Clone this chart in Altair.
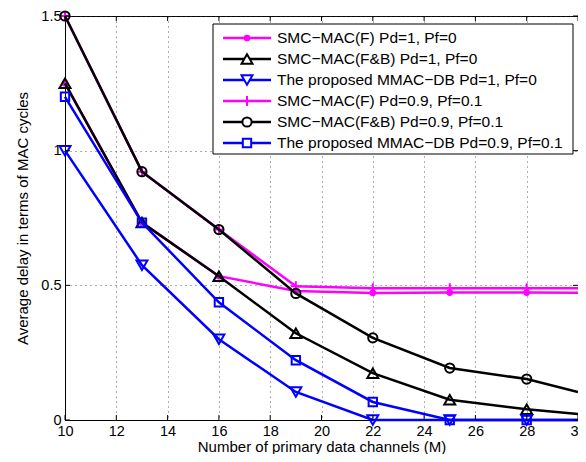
import altair as alt
import pandas as pd

# ---------------- data ----------------
x_channels = [10, 13, 16, 19, 22, 25, 28, 30]   # last value = line at the right edge
marker_x = [10, 13, 16, 19, 22, 25, 28]

series_names = [
    "SMC\u2212MAC(F) Pd=1, Pf=0",
    "SMC\u2212MAC(F&B) Pd=1, Pf=0",
    "The proposed MMAC\u2212DB Pd=1, Pf=0",
    "SMC\u2212MAC(F) Pd=0.9, Pf=0.1",
    "SMC\u2212MAC(F&B) Pd=0.9, Pf=0.1",
    "The proposed MMAC\u2212DB Pd=0.9, Pf=0.1",
]

f_pd1 = [1.25, 0.733, 0.534, 0.479, 0.472, 0.473, 0.473, 0.472]
fb_pd1 = [1.25, 0.733, 0.534, 0.322, 0.174, 0.075, 0.040, 0.022]
prop_pd1 = [1.0, 0.575, 0.300, 0.104, 0.0, 0.0, 0.0, 0.0]
f_pd09 = [1.5, 0.922, 0.707, 0.497, 0.489, 0.489, 0.489, 0.489]
fb_pd09 = [1.5, 0.922, 0.707, 0.470, 0.305, 0.193, 0.152, 0.104]
prop_pd09 = [1.2, 0.733, 0.437, 0.222, 0.067, 0.0, 0.0, 0.0]

all_values = [f_pd1, fb_pd1, prop_pd1, f_pd09, fb_pd09, prop_pd09]

x_ticks = [10, 12, 14, 16, 18, 20, 22, 24, 26, 28, 30]
y_ticks = [0, 0.5, 1, 1.5]

# ---------------- styles ----------------
PLUS = "M-1,0L1,0M0,-1L0,1"
styles = [
    dict(color="#FF00FF", shape="circle", filled=True, size=22),
    dict(color="#000000", shape="triangle-up", filled=False, size=120),
    dict(color="#0000FF", shape="triangle-down", filled=False, size=120),
    dict(color="#FF00FF", shape=PLUS, filled=False, size=100),
    dict(color="#000000", shape="circle", filled=False, size=85),
    dict(color="#0000FF", shape="square", filled=False, size=70),
]

FONT = "Liberation Sans"
W, H = 513, 404

rows = []
for name, vals in zip(series_names, all_values):
    for xv, yv in zip(x_channels, vals):
        rows.append({"series": name, "M": xv, "delay": yv, "marker": xv in marker_x})
df = pd.DataFrame(rows)

xscale = alt.Scale(domain=[10, 30], nice=False, zero=False)
yscale = alt.Scale(domain=[0, 1.5], nice=False, zero=False)

x_axis = alt.Axis(values=x_ticks, title="Number of primary data channels (M)",
                  grid=True, labelPadding=4, titlePadding=2, labelFlush=False)
y_axis = alt.Axis(values=y_ticks, title="Average delay in terms of MAC cycles",
                  grid=True, format="~g", labelPadding=4, titlePadding=10, labelFlush=False)


def xenc(field):
    return alt.X(f"{field}:Q", scale=xscale, axis=x_axis)


def yenc(field):
    return alt.Y(f"{field}:Q", scale=yscale, axis=y_axis)


base = alt.Chart(df)
main_layers = []
for name, st in zip(series_names, styles):
    sub = base.transform_filter(alt.datum.series == name)
    main_layers.append(
        sub.mark_line(color=st["color"], strokeWidth=2.5).encode(x=xenc("M"), y=yenc("delay"))
    )
    pt_kwargs = dict(shape=st["shape"], size=st["size"], strokeWidth=2, opacity=1)
    if st["filled"]:
        pt_kwargs.update(filled=True, fill=st["color"], stroke=st["color"])
    else:
        pt_kwargs.update(filled=False, stroke=st["color"])
    main_layers.append(
        sub.transform_filter(alt.datum.marker).mark_point(**pt_kwargs).encode(
            x=xenc("M"), y=yenc("delay"))
    )

# inward tick marks (MATLAB style) on all four sides
xt = alt.Chart(pd.DataFrame({"t": x_ticks}))
yt = alt.Chart(pd.DataFrame({"t": y_ticks}))
main_layers += [
    xt.mark_rule(color="black", strokeWidth=1).encode(x=xenc("t"), y=alt.value(H), y2=alt.value(H - 5)),
    xt.mark_rule(color="black", strokeWidth=1).encode(x=xenc("t"), y=alt.value(0), y2=alt.value(5)),
    yt.mark_rule(color="black", strokeWidth=1).encode(y=yenc("t"), x=alt.value(0), x2=alt.value(5)),
    yt.mark_rule(color="black", strokeWidth=1).encode(y=yenc("t"), x=alt.value(W - 5), x2=alt.value(W)),
]
main = alt.layer(*main_layers)

# ---------------- legend ----------------
leg_df = pd.DataFrame({"series": series_names})
leg_y = alt.Y("series:N", scale=alt.Scale(type="point", domain=series_names,
                                          range=[22, 127], padding=0), axis=None)
legend_layers = [
    alt.Chart(pd.DataFrame({"a": [0]})).mark_rect(fill="white", stroke="black", strokeWidth=1).encode(
        x=alt.value(148), x2=alt.value(508), y=alt.value(8), y2=alt.value(138))
]
for name, st in zip(series_names, styles):
    sub = alt.Chart(leg_df).transform_filter(alt.datum.series == name)
    legend_layers.append(
        sub.mark_rule(color=st["color"], strokeWidth=2.5).encode(
            x=alt.value(158), x2=alt.value(206), y=leg_y)
    )
    pt_kwargs = dict(shape=st["shape"], size=st["size"], strokeWidth=2, opacity=1)
    if st["filled"]:
        pt_kwargs.update(filled=True, fill=st["color"], stroke=st["color"])
    else:
        pt_kwargs.update(filled=False, stroke=st["color"], fill="white")
    legend_layers.append(sub.mark_point(**pt_kwargs).encode(x=alt.value(182), y=leg_y))
legend_layers.append(
    alt.Chart(leg_df).mark_text(align="left", baseline="middle", font=FONT, fontSize=15.5,
                                color="black").encode(x=alt.value(212), y=leg_y, text="series:N")
)
legend = alt.layer(*legend_layers)

chart = (
    alt.layer(main, legend)
    .resolve_scale(y="independent")
    .properties(width=W, height=H,
                autosize=alt.AutoSizeParams(type="none"),
                padding={"left": 57, "top": 8, "right": 0, "bottom": 34},
                background="white")
    .configure_view(stroke="black", strokeWidth=1)
    .configure_axis(labelFont=FONT, titleFont=FONT, labelFontSize=14.5, titleFontSize=15,
                    titleFontWeight="normal", labelColor="black", titleColor="black",
                    domainColor="black", domainWidth=1, tickSize=0,
                    gridColor="#333333", gridDash=[1, 4], gridWidth=1, gridOpacity=0.8)
)

chart.save("out.html", embed_options={"renderer": "svg", "actions": False})
